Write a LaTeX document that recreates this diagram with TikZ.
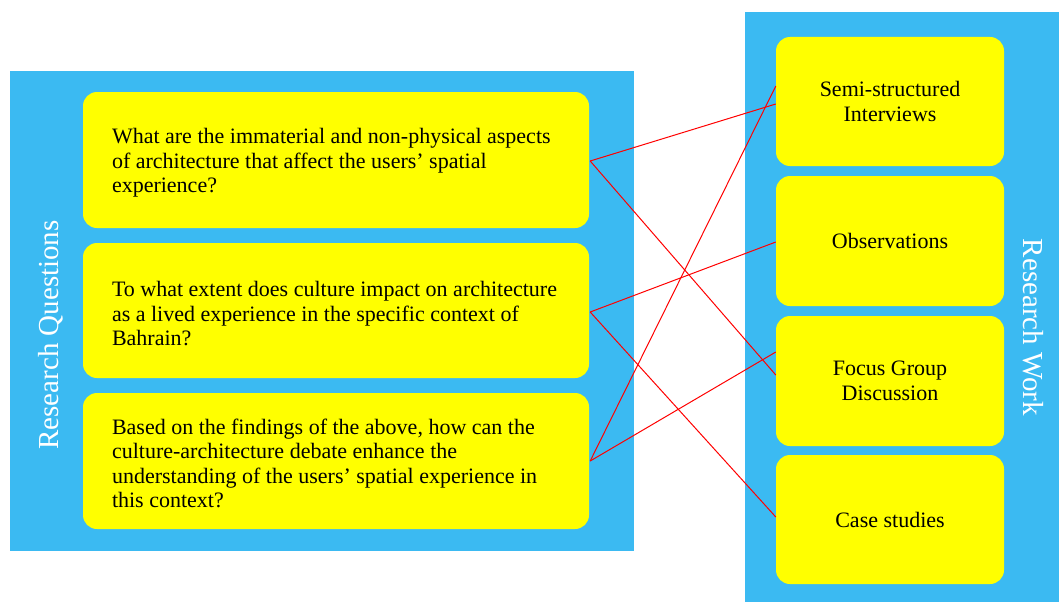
\documentclass[tikz,border=0pt]{standalone}
\usepackage{fontspec}
\setmainfont{Liberation Serif}
\newfontfamily\tnr{Liberation Serif}
\definecolor{panelblue}{RGB}{59,186,242}
\definecolor{boxyellow}{RGB}{255,255,0}
\definecolor{linkred}{RGB}{255,0,0}
\begin{document}
\begin{tikzpicture}[x=1pt,y=-1pt,
  panel/.style={fill=panelblue,draw=none},
  ybox/.style={fill=boxyellow,draw=none,rounded corners=14pt,inner sep=0pt},
  qtext/.style={inner sep=0pt,anchor=west,align=left,font=\tnr\fontsize{22}{24.5}\selectfont},
  wtext/.style={inner sep=0pt,align=center,font=\tnr\fontsize{22}{24.5}\selectfont},
  sidelabel/.style={inner sep=0pt,text=white,font=\tnr\fontsize{29}{32}\selectfont},
  link/.style={draw=linkred,line width=1pt}]
\useasboundingbox (0,0) rectangle (1059,602);
% panels
\path[panel] (10,71) rectangle (634,551);
\path[panel] (745,12) rectangle (1059,602);
% left boxes
\node[ybox,minimum width=506pt,minimum height=136pt] (q1) at (336,160) {};
\node[ybox,minimum width=506pt,minimum height=135pt] (q2) at (336,310.5) {};
\node[ybox,minimum width=506pt,minimum height=136pt] (q3) at (336,461) {};
\node[qtext] (q1t) at ([xshift=29pt,yshift=-3pt]q1.west) {What are the immaterial and non-physical aspects\\of architecture that affect the users’ spatial\\experience?};
\node[qtext] (q2t) at ([xshift=29pt,yshift=-3.5pt]q2.west) {To what extent does culture impact on architecture\\as a lived experience in the specific context of\\Bahrain?};
\node[qtext] (q3t) at ([xshift=29pt,yshift=-2.5pt]q3.west) {Based on the findings of the above, how can the\\culture-architecture debate enhance the\\understanding of the users’ spatial experience in\\this context?};
% right boxes
\node[ybox,minimum width=228pt,minimum height=129pt] (w1) at (890,101.5) {};
\node[ybox,minimum width=228pt,minimum height=130pt] (w2) at (890,241) {};
\node[ybox,minimum width=228pt,minimum height=130pt] (w3) at (890,381) {};
\node[ybox,minimum width=228pt,minimum height=129pt] (w4) at (890,519.5) {};
\node[wtext] (w1t) at (w1) {Semi-structured\\Interviews};
\node[wtext] (w2t) at (w2) {Observations};
\node[wtext] (w3t) at (w3) {Focus Group\\Discussion};
\node[wtext] (w4t) at (w4) {Case studies};
% side labels
\node[sidelabel,rotate=90] (rq) at (51,335) {Research Questions};
\node[sidelabel,rotate=-90] (rw) at (1033,327.5) {Research Work};
% links
\coordinate (a1) at ([xshift=1pt,yshift=-1pt]q1.east);
\coordinate (a2) at ([xshift=1pt,yshift=-1.5pt]q2.east);
\coordinate (a3) at ([xshift=1pt]q3.east);
\draw[link] (a1) -- ([yshift=-2.5pt]w1.west);
\draw[link] (a1) -- ([yshift=6pt]w3.west);
\draw[link] (a2) -- ([yshift=-1pt]w2.west);
\draw[link] (a2) -- ([yshift=2.5pt]w4.west);
\draw[link] (a3) -- ([yshift=15.5pt]w1.west);
\draw[link] (a3) -- ([yshift=29pt]w3.west);
\end{tikzpicture}
\end{document}
